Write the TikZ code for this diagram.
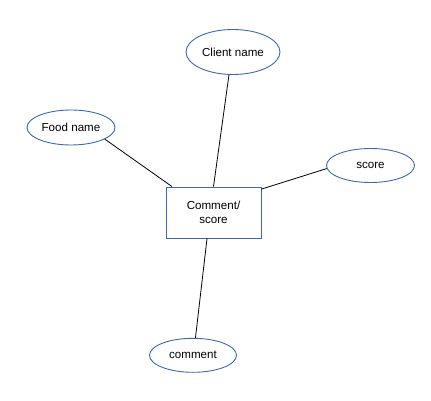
\documentclass[tikz,border=0pt]{standalone}
\usepackage{fontspec}
\setmainfont{Liberation Sans}
\usetikzlibrary{shapes.geometric}
\definecolor{shapeblue}{RGB}{62,104,170}
\tikzset{
  attr/.style={ellipse, draw=shapeblue, line width=0.9pt, inner sep=0pt, font=\fontsize{11.6}{14}\selectfont},
  entity/.style={rectangle, draw=shapeblue, line width=0.9pt, inner sep=0pt, minimum width=95pt, minimum height=51pt, align=center, font=\fontsize{11.6}{14}\selectfont},
  link/.style={draw=black, line width=0.8pt}
}
\begin{document}
\begin{tikzpicture}[x=1pt,y=-1pt]
\useasboundingbox[fill=white] (0,0) rectangle (431,401);
\node[entity] (box) at (213.5,212.5) {Comment/\\score};
\node[attr, minimum width=94pt, minimum height=45pt] (client) at (233,52) {Client name};
\node[attr, minimum width=88pt, minimum height=35pt] (food) at (71,127.5) {Food name};
\node[attr, minimum width=88pt, minimum height=34pt] (score) at (370.5,165.5) {score};
\node[attr, minimum width=87pt, minimum height=34pt] (comment) at (193,355.3) {comment};
\draw[link] (client.260) -- (box.north);
\draw[link] (food.-19) -- (box.148);
\draw[link] (score.184) -- (box.26);
\draw[link] (comment.82) -- (box.256);
\end{tikzpicture}
\end{document}
